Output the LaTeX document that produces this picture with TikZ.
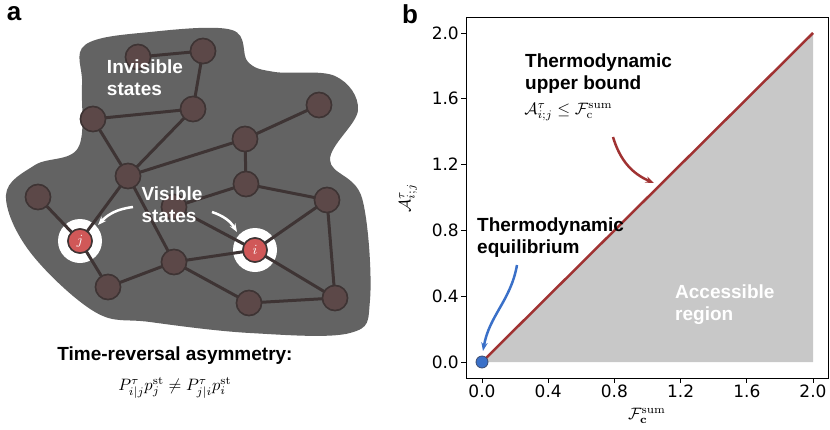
\documentclass[tikz,border=0pt]{standalone}
\usepackage[no-math]{fontspec}
\setmainfont{Liberation Sans}
\newfontfamily\tickfont{DejaVu Sans}
\usetikzlibrary{arrows.meta}
\definecolor{blobgray}{HTML}{636363}
\definecolor{statebrown}{HTML}{5C4848}
\definecolor{stateedge}{HTML}{3E3434}
\definecolor{visred}{HTML}{D05858}
\definecolor{bounddred}{HTML}{A03232}
\definecolor{eqblue}{HTML}{3A70C8}
\definecolor{regiongray}{HTML}{C8C8C8}

\begin{document}
\begin{tikzpicture}[
    x=1pt, y=-1pt,
    state/.style = {
      circle,
      fill=statebrown,
      draw=stateedge,
      line width=1.5pt,
      minimum size=25pt,
      inner sep=0pt
    },
    visible/.style = {
      circle,
      fill=visred,
      draw=stateedge,
      line width=1.5pt,
      minimum size=24pt,
      inner sep=0pt,
      text=white
    },
    link/.style = {
      draw=stateedge,
      line width=3pt
    },
    arrow/.style = {
      -{Stealth[length=0.3cm]},
      line width=2.5pt
    },
    label/.style = {
      font=\fontsize{19}{22}\selectfont\bfseries,
      align=left,
      inner sep=0pt
    },
    mathlabel/.style = {
      scale=1.65,
      inner sep=0pt
    },
    tick/.style = {
      font=\fontsize{17}{17}\selectfont\tickfont,
      inner sep=2pt
    }
  ]
    \useasboundingbox (0,0) rectangle (830,429);

    % Panel letters
    \node[font=\fontsize{26}{26}\selectfont\bfseries] (pa) at (14,14) {a};
    \node[font=\fontsize{26}{26}\selectfont\bfseries] (pb) at (410,14) {b};

    % Hidden network blob
    \fill[blobgray] plot[smooth cycle, tension=0.6] coordinates {
      (85,45) (150,32) (232,30) (248,62) (275,72) (335,76) (358,110)
      (330,160) (362,198) (370,300) (350,333) (250,333) (150,322)
      (95,312) (30,252) (6,195) (35,165) (78,148) (82,85)};

    % White rings round visible states
    \fill[white] (80,241) circle (22);
    \fill[white] (255,250) circle (22);

    % States
    \node[state] (s1)  at (138,57)  {};
    \node[state] (s2)  at (203,51)  {};
    \node[state] (s3)  at (193,109) {};
    \node[state] (s4)  at (93,119)  {};
    \node[state] (s5)  at (319,105) {};
    \node[state] (s6)  at (245,139) {};
    \node[state] (s7)  at (128,176) {};
    \node[state] (s8)  at (246,184) {};
    \node[state] (s9)  at (38,197)  {};
    \node[state] (s10) at (174,207) {};
    \node[state] (s11) at (327,200) {};
    \node[state] (s12) at (174,262) {};
    \node[state] (s13) at (108,287) {};
    \node[state] (s14) at (249,303) {};
    \node[state] (s15) at (335,298) {};
    \node[visible] (vj) at (80,241)  {\scalebox{1.4}{$j$}};
    \node[visible] (vi) at (255,250) {\scalebox{1.4}{$i$}};

    % Links
    \foreach \a/\b in {s1/s2, s2/s3, s3/s4, s4/s7, s3/s7, s7/s6, s6/s5,
                       s6/s8, s8/s11, s7/vj, s9/vj, vj/s13, s7/s12, s8/s10,
                       s10/vi, s12/vi, s13/s12, s12/s14, s14/s15, vi/s11,
                       vi/s15, s11/s15}
      \draw[link] (\a.center) -- (\b.center);
    \foreach \n in {s1,s2,s3,s4,s5,s6,s7,s8,s9,s10,s11,s12,s13,s14,s15}
      \node[state] at (\n) {};
    \node[visible] at (vj) {\scalebox{1.4}{$j$}};
    \node[visible] at (vi) {\scalebox{1.4}{$i$}};

    % Labels on the network
    \node[label, text=white] (invisible) at (145,78) {Invisible\\states};
    \node[label, text=white] (vislabel) at (172,205) {Visible\\states};
    \draw[arrow, white] (133,207) to[bend right=20] (98,225);
    \draw[arrow, white] (212,212) to[bend left=20] (237,232);

    % Asymmetry caption
    \node[label] (asym) at (175,356) {Time-reversal asymmetry:};
    \node[mathlabel] (asymeq) at (175,388)
      {$P_{i|j}^{\tau}p_j^{\mathrm{st}} \neq P_{j|i}^{\tau}p_i^{\mathrm{st}}$};

    % Panel b: axes
    \coordinate (origin) at (482,362);
    \fill[regiongray] (482,362) -- (813,33) -- (813,362) -- cycle;
    \draw[bounddred, line width=2.5pt] (482,362) -- (813,33);
    \draw[line width=1pt] (466,17) rectangle (828,378);
    \foreach \v [count=\k from 0] in {0.0,0.4,0.8,1.2,1.6,2.0} {
      \draw[line width=1pt] (482+66.2*\k,378) -- ++(0,5);
      \node[tick, anchor=north] (xt\k) at (482+66.2*\k,383) {\v};
      \draw[line width=1pt] (466,362-65.8*\k) -- ++(-5,0);
      \node[tick, anchor=east] (yt\k) at (461,362-65.8*\k) {\v};
    }
    \node[mathlabel] (xlab) at (647,416)
      {$\mathcal{F}_{\mathbf{c}}^{\mathrm{sum}}$};
    \node[mathlabel, rotate=90] (ylab) at (408,198)
      {$\mathcal{A}_{i;j}^{\tau}$};

    % Annotations
    \node[label, anchor=north west] (bound) at (525,54)
      {Thermodynamic\\upper bound};
    \node[mathlabel, anchor=north west] (ineq) at (524,103)
      {$\mathcal{A}_{i;j}^{\tau} \leq \mathcal{F}_{\mathrm{c}}^{\mathrm{sum}}$};
    \draw[arrow, bounddred] (613,137) to[bend right=25] (654,183);
    \node[label, anchor=north west] (equil) at (477,218)
      {Thermodynamic\\equilibrium};
    \node[label, text=white, anchor=north west] (region) at (675,285)
      {Accessible\\region};
    \fill[eqblue] (origin) circle (6);
    \draw[stateedge!60!eqblue, line width=0.8pt] (origin) circle (6);
    \draw[arrow, eqblue] (517,265) to[out=260, in=80] (483,351);
\end{tikzpicture}
\end{document}
